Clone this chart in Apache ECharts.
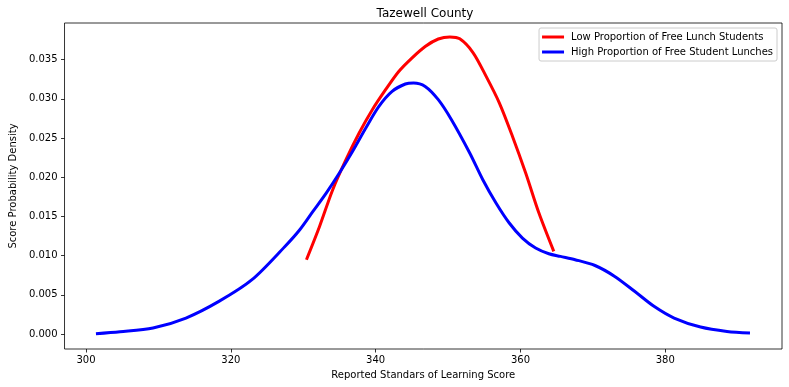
<!DOCTYPE html>
<html>
<head>
<meta charset="utf-8">
<script src="https://cdn.jsdelivr.net/npm/echarts@6/dist/echarts.min.js"></script>
<style>html,body{margin:0;padding:0;background:#fff}#c{width:789px;height:387px}</style>
</head>
<body>
<div id="c"></div>
<script>
var title = 'Tazewell County';
var xName = 'Reported Standars of Learning Score';
var yName = 'Score Probability Density';
var lowName = 'Low Proportion of Free Lunch Students';
var highName = 'High Proportion of Free Student Lunches';

var xTicks = [300, 320, 340, 360, 380];
var yTicks = [0.000, 0.005, 0.010, 0.015, 0.020, 0.025, 0.030, 0.035];

var lowX = [330.44, 332.25, 334.07, 335.90, 337.72, 339.54, 341.37, 343.19, 345.00, 346.84, 348.65, 350.25, 351.62, 353.44, 355.26, 357.09, 358.90, 360.72, 362.55, 364.60];
var lowY = [0.00948, 0.01372, 0.01841, 0.02223, 0.02564, 0.02861, 0.03116, 0.03349, 0.03520, 0.03668, 0.03763, 0.03790, 0.03765, 0.03590, 0.03286, 0.02946, 0.02520, 0.02054, 0.01543, 0.01054];

var highX = [301.37, 304.69, 309.25, 313.80, 318.35, 322.92, 327.47, 329.52, 331.34, 333.17, 334.99, 336.80, 338.64, 340.45, 342.27, 344.10, 345.24, 346.84, 348.65, 350.47, 352.99, 354.80, 356.62, 358.45, 360.27, 362.09, 363.92, 365.51, 367.55, 370.29, 373.02, 375.76, 378.49, 381.22, 384.87, 388.52, 391.70];
var highY = [0.00004, 0.00029, 0.00077, 0.00204, 0.00416, 0.00693, 0.01117, 0.01330, 0.01564, 0.01798, 0.02054, 0.02329, 0.02628, 0.02903, 0.03094, 0.03189, 0.03202, 0.03158, 0.02989, 0.02733, 0.02309, 0.01968, 0.01671, 0.01416, 0.01224, 0.01097, 0.01024, 0.00990, 0.00948, 0.00874, 0.00735, 0.00545, 0.00350, 0.00204, 0.00089, 0.00033, 0.00013];

function pairs(xs, ys) { return xs.map(function (x, i) { return [x, ys[i]]; }); }

var font = 'DejaVu Sans';
var chart = echarts.init(document.getElementById('c'), null, {renderer: 'canvas'});
chart.setOption({
  animation: false,
  backgroundColor: '#fff',
  textStyle: {fontFamily: font, color: '#000'},
  title: {
    text: title, left: 420, top: 3, textAlign: 'center',
    textStyle: {fontFamily: font, fontSize: 12, fontWeight: 'normal', color: '#000'}
  },
  legend: {
    orient: 'vertical', right: 12, top: 28,
    padding: [3, 4, 3, 3],
    itemWidth: 22, itemHeight: 3, itemGap: 3,
    icon: 'rect',
    borderColor: '#cccccc', borderWidth: 1, borderRadius: 2,
    backgroundColor: 'rgba(255,255,255,0.8)',
    textStyle: {fontFamily: font, fontSize: 10, color: '#000', lineHeight: 12, padding: [0, 0, 0, 2]},
    data: [lowName, highName]
  },
  grid: {
    left: 57, top: 23, width: 725, height: 326,
    show: true, borderColor: '#000', borderWidth: 0.8, backgroundColor: 'transparent'
  },
  xAxis: {
    type: 'value', min: 297.03, max: 396.12,
    name: xName, nameLocation: 'middle', nameGap: 21,
    nameTextStyle: {fontFamily: font, fontSize: 10, color: '#000'},
    axisLine: {show: false, onZero: false},
    axisTick: {show: true, length: 3.5, lineStyle: {color: '#000', width: 0.8}, customValues: xTicks},
    axisLabel: {customValues: xTicks, margin: 6, fontFamily: font, fontSize: 10, color: '#000',
      formatter: function (v) { return String(Math.round(v)); }},
    splitLine: {show: false}
  },
  yAxis: {
    type: 'value', min: -0.00191, max: 0.03967,
    name: yName, nameLocation: 'middle', nameGap: 46, nameRotate: 90,
    nameTextStyle: {fontFamily: font, fontSize: 10, color: '#000'},
    axisLine: {show: false, onZero: false},
    axisTick: {show: true, length: 3.5, lineStyle: {color: '#000', width: 0.8}, customValues: yTicks},
    axisLabel: {customValues: yTicks, margin: 7, fontFamily: font, fontSize: 10, color: '#000',
      formatter: function (v) { return v.toFixed(3); }},
    splitLine: {show: false}
  },
  series: [
    {name: lowName, type: 'line', data: pairs(lowX, lowY), smooth: 0.3, showSymbol: false, symbol: 'none',
      lineStyle: {color: '#ff0000', width: 3}, itemStyle: {color: '#ff0000'}},
    {name: highName, type: 'line', data: pairs(highX, highY), smooth: 0.3, showSymbol: false, symbol: 'none',
      lineStyle: {color: '#0000ff', width: 3}, itemStyle: {color: '#0000ff'}}
  ]
});
</script>
</body>
</html>
